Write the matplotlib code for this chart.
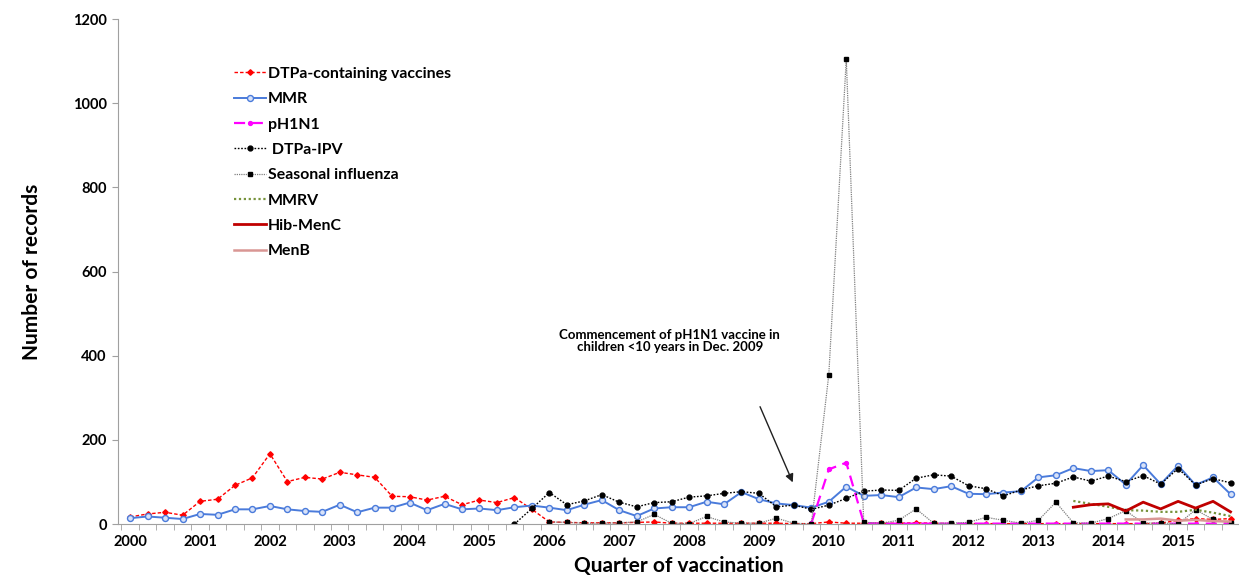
import numpy as np
import matplotlib.pyplot as plt

nan = np.nan

# 64 quarters, 2000 Q1 .. 2015 Q4
years = list(range(2000, 2016))

dtpa = [17, 24, 28, 21, 54, 59, 92, 110, 167, 101, 111, 107, 123, 117, 111, 66,
        65, 57, 66, 46, 57, 51, 63, 35, 5, 4, 3, 3, 3, 4, 5, 2,
        2, 2, 2, 2, 2, 2, 1, 1, 5, 2, 2, 2, 2, 3, 2, 1,
        1, 1, 1, 1, 1, 1, 1, 1, 1, 1, 1, 2, 9, 13, 11, 13]
mmr = [14, 18, 15, 12, 24, 22, 35, 35, 43, 35, 31, 29, 46, 28, 39, 39,
       51, 33, 48, 35, 37, 33, 40, 44, 39, 33, 46, 57, 33, 19, 37, 40,
       40, 53, 47, 76, 59, 49, 45, 39, 53, 89, 67, 69, 64, 87, 83, 90,
       72, 71, 75, 78, 111, 116, 133, 126, 128, 94, 140, 95, 139, 93, 111, 71]
ph1n1 = [nan] * 39 + [2, 130, 146, 3] + [1] * 21
dtpa_ipv = [nan] * 22 + [0, 37, 75, 46, 55, 70, 52, 41, 51, 53,
                         64, 67, 73, 77, 73, 41, 45, 35, 45, 61, 78, 81, 80, 109, 117, 114,
                         91, 84, 67, 81, 91, 97, 112, 102, 114, 101, 115, 95, 132, 93, 108, 98]
influenza = [nan] * 24 + [5, 4, 2, 2, 3, 5, 23, 2,
                          1, 18, 5, 2, 2, 14, 2, 0, 355, 1105, 4, 2, 9, 36, 2, 2,
                          4, 16, 9, 2, 9, 52, 3, 2, 13, 32, 2, 3, 0, 34, 11, 2]
mmrv = [nan] * 54 + [55, 48, 41, 33, 32, 29, 29, 34, 27, 19]
hib_menc = [nan] * 54 + [40, 46, 48, 31, 52, 36, 54, 38, 54, 29]
menb = [nan] * 57 + [11, 11, 13, 8, 10, 7, 6]

x = np.arange(len(mmr))

plt.rcParams['font.family'] = ['Lato', 'DejaVu Sans']
plt.rcParams['font.weight'] = 'bold'

fig = plt.figure(figsize=(12.39, 5.81), dpi=100)
ax = fig.add_axes([0.0952, 0.098, 0.905, 0.869])

ax.plot(x, dtpa, color='#FF0000', ls=(0, (2.5, 1.5)), lw=1.0, marker='D', ms=2.8,
        label='DTPa-containing vaccines')
ax.plot(x, mmr, color='#4A7BDB', ls='-', lw=1.4, marker='o', ms=4.3,
        mfc='#D8E2F8', mec='#4A7BDB', mew=1.0, label='MMR')
ax.plot(x, ph1n1, color='#FF00FF', ls=(0, (5, 3)), lw=1.6, marker='o', ms=2.8,
        label='pH1N1')
ax.plot(x, dtpa_ipv, color='#000000', ls=(0, (1.2, 1.2)), lw=1.0, marker='o', ms=3.5,
        label=' DTPa-IPV')
ax.plot(x, influenza, color='#808080', ls=(0, (1, 0.8)), lw=0.9, marker='s', ms=3.3,
        mfc='black', mec='black', label='Seasonal influenza')
ax.plot(x, mmrv, color='#77933C', ls=(0, (1, 1.2)), lw=1.6, label='MMRV')
ax.plot(x, hib_menc, color='#C00000', ls='-', lw=2.0, label='Hib-MenC')
ax.plot(x, menb, color='#D99694', ls='-', lw=1.8, label='MenB')

ax.set_xlim(-0.7, 63.4)
ax.set_ylim(0, 1200)
ax.set_yticks(range(0, 1201, 200))
ax.set_xticks(np.arange(0, 64, 4))
ax.set_xticklabels([str(y) for y in years])
ax.set_xticks(np.arange(-0.5, 64, 1), minor=True)
ax.tick_params(axis='x', which='major', length=0, pad=8, labelsize=10.5)
ax.tick_params(axis='x', which='minor', length=4, color='#A0A0A0')
ax.tick_params(axis='y', length=4, color='#A0A0A0', labelsize=10.5, pad=4)

for s in ['top', 'right']:
    ax.spines[s].set_visible(False)
for s in ['left', 'bottom']:
    ax.spines[s].set_color('#A0A0A0')

ax.set_ylabel('Number of records', fontsize=15, fontweight='bold', labelpad=22)
ax.set_xlabel('Quarter of vaccination', fontsize=15, fontweight='bold', labelpad=5)

ax.annotate('', xy=(38.0, 93), xytext=(36.0, 285),
            arrowprops=dict(arrowstyle='-|>', color='#202020', lw=1.0,
                            mutation_scale=12))
ax.text(30.9, 435, 'Commencement of pH1N1 vaccine in\nchildren <10 years in Dec. 2009',
        ha='center', va='center', fontsize=9.5, fontweight='bold', linespacing=1.0)

leg = ax.legend(loc='upper left', bbox_to_anchor=(0.098, 0.918), frameon=False,
                fontsize=11.4, handlelength=2.0, labelspacing=0.71, handletextpad=0.15,
                borderaxespad=0)
for t in leg.get_texts():
    t.set_fontweight('bold')

fig.savefig('out.png', dpi=100)
